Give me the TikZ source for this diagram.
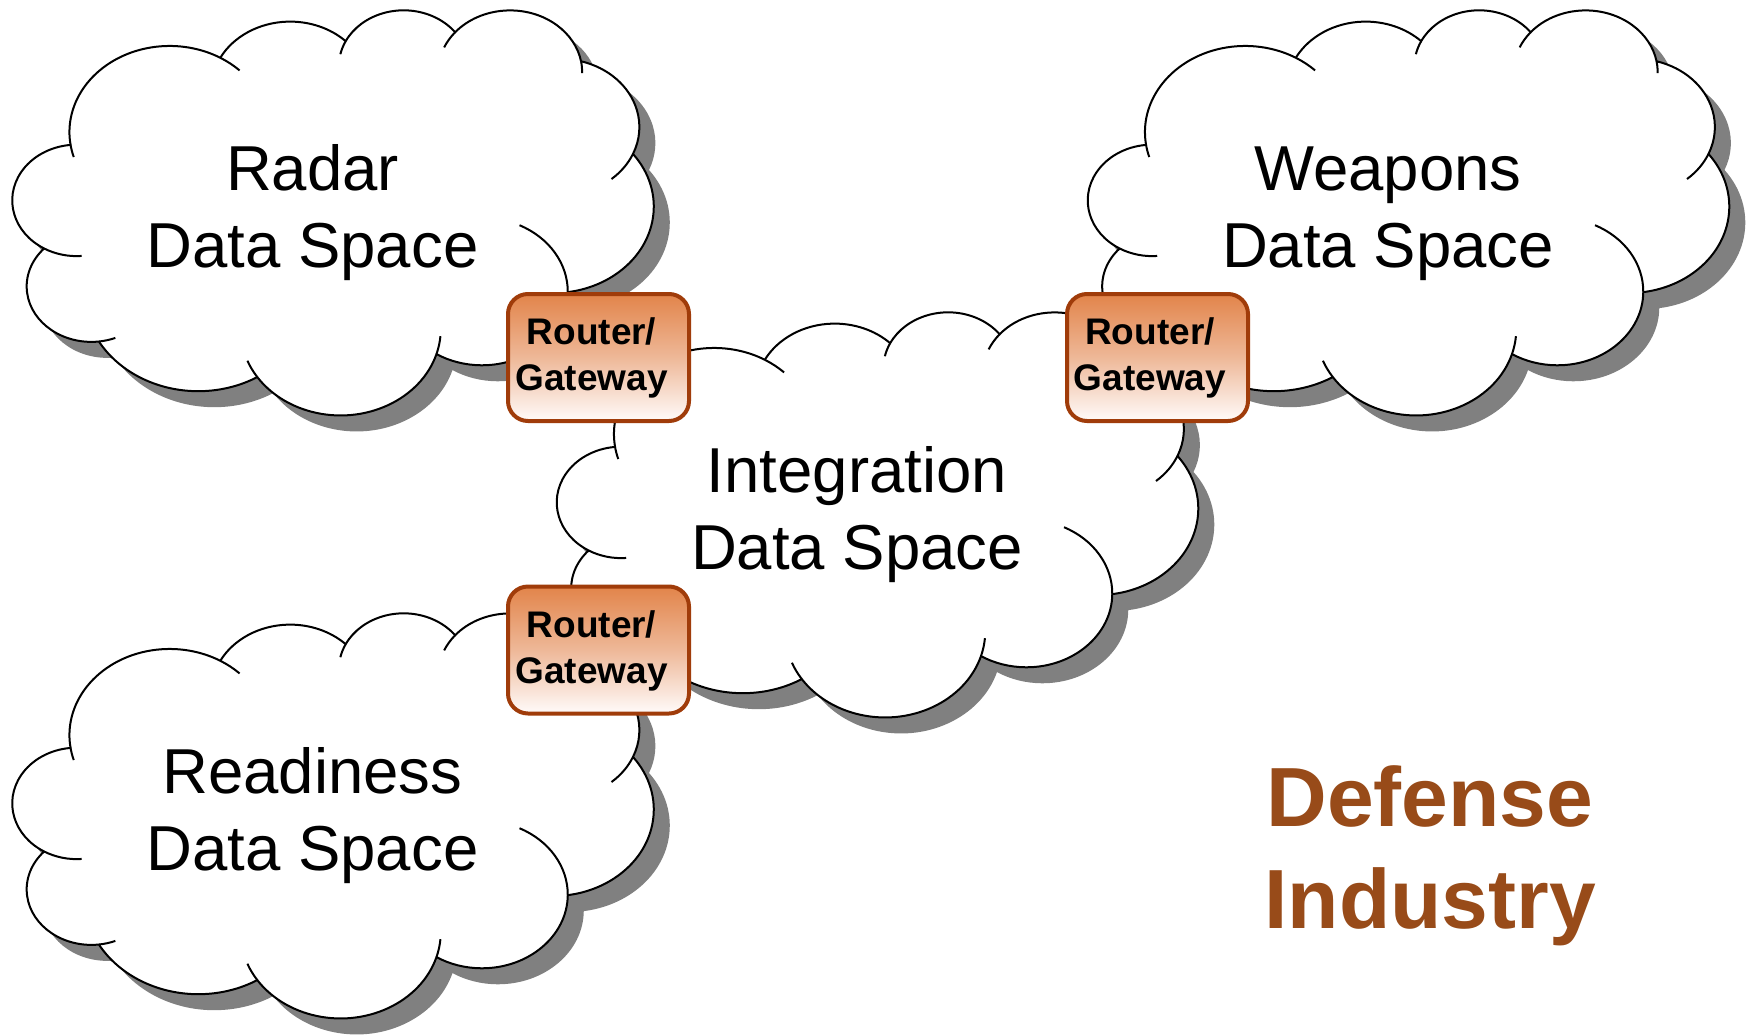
\documentclass[tikz,border=0pt]{standalone}
\usepackage{fontspec}
\setmainfont{Liberation Sans}
\definecolor{cldshadow}{HTML}{808080}
\definecolor{rtborder}{HTML}{A03C0A}
\definecolor{rttop}{HTML}{E2844A}
\definecolor{rtmid}{HTML}{EEB898}
\definecolor{rtbot}{HTML}{FFFBFA}
\definecolor{defcol}{HTML}{984B19}
\makeatletter
\def\cldX{3.9}\def\cldY{14.37}
\newcommand\cldarc[5]{%
  \pgfmathsetmacro\cld@tA{atan2((#2)*sin(#4),(#3)*cos(#4))}%
  \pgfmathsetmacro\cld@tB{atan2((#2)*sin((#4)+(#5)),(#3)*cos((#4)+(#5)))}%
  \pgfmathsetmacro\cld@tD{mod((\cld@tB)-(\cld@tA)+720,360)}%
  \pgfmathsetmacro\cld@cx{(\cldX)-(#2)*cos(\cld@tA)}%
  \pgfmathsetmacro\cld@cy{(\cldY)-(#3)*sin(\cld@tA)}%
  \pgfmathsetmacro\cldX{(\cld@cx)+(#2)*cos(\cld@tB)}%
  \pgfmathsetmacro\cldY{(\cld@cy)+(#3)*sin(\cld@tB)}%
  \expandafter\let\csname cld#1S\endcsname\cld@tA
  \expandafter\let\csname cld#1D\endcsname\cld@tD
  \expandafter\let\csname cld#1X\endcsname\cld@cx
  \expandafter\let\csname cld#1Y\endcsname\cld@cy
}
\newcommand\cldinner[6]{%
  \pgfmathsetmacro\cld@tA{atan2((#3)*sin(#5),(#4)*cos(#5))}%
  \pgfmathsetmacro\cld@tB{atan2((#3)*sin((#5)+(#6)),(#4)*cos((#5)+(#6)))}%
  \pgfmathsetmacro\cld@tD{mod((\cld@tB)-(\cld@tA)+720,360)}%
  \expandafter\let\expandafter\cld@ex\csname cld#2X\endcsname
  \expandafter\let\expandafter\cld@ey\csname cld#2Y\endcsname
  \pgfmathsetmacro\cld@sx{(\cld@ex)+(#3)*cos(\cld@tA)}%
  \pgfmathsetmacro\cld@sy{(\cld@ey)+(#4)*sin(\cld@tA)}%
  \expandafter\let\csname cld#1S\endcsname\cld@tA
  \expandafter\let\csname cld#1D\endcsname\cld@tD
  \expandafter\let\csname cld#1x\endcsname\cld@sx
  \expandafter\let\csname cld#1y\endcsname\cld@sy
}
\makeatother
\cldarc{a}{6.753}{9.19}{-190.48748}{123.78053}
\cldarc{b}{5.333}{7.267}{-144.10238}{89.94523}
\cldarc{c}{4.365}{5.945}{-145.80792}{99.72302}
\cldarc{d}{4.857}{6.595}{-130.98607}{117.24173}
\cldarc{e}{5.333}{7.273}{-78.70888}{109.02692}
\cldarc{f}{6.775}{9.22}{-46.26812}{130.15}
\cldarc{g}{5.785}{7.867}{0.62502}{114.03333}
\cldarc{h}{6.752}{9.215}{22.4516}{115.17255}
\cldarc{i}{7.72}{10.543}{66.24263}{75.71102}
\cldarc{j}{4.36}{5.918}{-274.94208}{146.73557}
\cldarc{k}{4.345}{5.945}{-246.8285}{152.51885}
\cldinner{ia}{k}{4.345}{5.945}{86.742}{26.4295}
\cldinner{ib}{j}{4.36}{5.918}{73.6105}{11.4475}
\cldinner{ic}{h}{6.752}{9.215}{137.6242}{14.0811}
\cldinner{id}{h}{6.752}{9.215}{6.4533}{15.9984}
\cldinner{ie}{g}{5.785}{7.867}{-70.2924}{70.9174}
\cldinner{if}{e}{5.333}{7.273}{30.318}{27.7515}
\cldinner{ig}{d}{4.857}{6.595}{-13.7443}{14.8589}
\cldinner{ih}{d}{4.857}{6.595}{-149.1815}{18.1954}
\cldinner{ii}{c}{4.365}{5.945}{-163.4943}{17.6864}
\cldinner{ij}{a}{6.753}{9.19}{-66.707}{12.3194}
\cldinner{ik}{a}{6.753}{9.19}{157.6544}{11.8582}
\newcommand\cldshape[2]{%
  \begin{scope}[#1]
  \path[#2] (3.9,14.37)
    arc[x radius=6.753,y radius=9.19,start angle=\cldaS,delta angle=\cldaD]
    arc[x radius=5.333,y radius=7.267,start angle=\cldbS,delta angle=\cldbD]
    arc[x radius=4.365,y radius=5.945,start angle=\cldcS,delta angle=\cldcD]
    arc[x radius=4.857,y radius=6.595,start angle=\clddS,delta angle=\clddD]
    arc[x radius=5.333,y radius=7.273,start angle=\cldeS,delta angle=\cldeD]
    arc[x radius=6.775,y radius=9.22,start angle=\cldfS,delta angle=\cldfD]
    arc[x radius=5.785,y radius=7.867,start angle=\cldgS,delta angle=\cldgD]
    arc[x radius=6.752,y radius=9.215,start angle=\cldhS,delta angle=\cldhD]
    arc[x radius=7.72,y radius=10.543,start angle=\cldiS,delta angle=\cldiD]
    arc[x radius=4.36,y radius=5.918,start angle=\cldjS,delta angle=\cldjD]
    arc[x radius=4.345,y radius=5.945,start angle=\cldkS,delta angle=\cldkD]
    -- cycle;
  \end{scope}}
\newcommand\cldinners[1]{%
  \begin{scope}[#1]
  \draw[cldline] (\cldiax,\cldiay) arc[x radius=4.345,y radius=5.945,start angle=\cldiaS,delta angle=\cldiaD];
  \draw[cldline] (\cldibx,\cldiby) arc[x radius=4.36,y radius=5.918,start angle=\cldibS,delta angle=\cldibD];
  \draw[cldline] (\cldicx,\cldicy) arc[x radius=6.752,y radius=9.215,start angle=\cldicS,delta angle=\cldicD];
  \draw[cldline] (\cldidx,\cldidy) arc[x radius=6.752,y radius=9.215,start angle=\cldidS,delta angle=\cldidD];
  \draw[cldline] (\cldiex,\cldiey) arc[x radius=5.785,y radius=7.867,start angle=\cldieS,delta angle=\cldieD];
  \draw[cldline] (\cldifx,\cldify) arc[x radius=5.333,y radius=7.273,start angle=\cldifS,delta angle=\cldifD];
  \draw[cldline] (\cldigx,\cldigy) arc[x radius=4.857,y radius=6.595,start angle=\cldigS,delta angle=\cldigD];
  \draw[cldline] (\cldihx,\cldihy) arc[x radius=4.857,y radius=6.595,start angle=\cldihS,delta angle=\cldihD];
  \draw[cldline] (\cldiix,\cldiiy) arc[x radius=4.365,y radius=5.945,start angle=\cldiiS,delta angle=\cldiiD];
  \draw[cldline] (\cldijx,\cldijy) arc[x radius=6.753,y radius=9.19,start angle=\cldijS,delta angle=\cldijD];
  \draw[cldline] (\cldikx,\cldiky) arc[x radius=6.753,y radius=9.19,start angle=\cldikS,delta angle=\cldikD];
  \end{scope}}
\newcommand\datacloud[2]{%
  \cldshape{shift={(#1+16,#2+16)},xscale=641/43.2,yscale=405/43.2}{fill=cldshadow}%
  \cldshape{shift={(#1,#2)},xscale=641/43.2,yscale=405/43.2}{cldline,fill=white}%
  \cldinners{shift={(#1,#2)},xscale=641/43.2,yscale=405/43.2}}
\begin{document}
\begin{tikzpicture}[x=1bp,y=-1bp,
  cldline/.style={draw=black,line width=2bp,line join=round},
  cldtext/.style={anchor=base,inner sep=0pt,font=\fontsize{63.5bp}{76bp}\selectfont},
  router/.style={draw=rtborder,line width=4bp,rounded corners=20bp,minimum width=181bp,minimum height=127bp,inner sep=0pt,top color=rttop,bottom color=rtbot,middle color=rtmid},
  rttext/.style={anchor=base,inner sep=0pt,font=\fontsize{37bp}{44bp}\selectfont\bfseries},
  deftext/.style={anchor=base,inner sep=0pt,text=defcol,font=\fontsize{84bp}{100bp}\selectfont\bfseries}]
\useasboundingbox (0,0) rectangle (1746,1034);
\fill[white] (0,0) rectangle (1746,1034);
\datacloud{12.5}{9}
\datacloud{1088}{9}
\datacloud{12.5}{612}
\datacloud{557}{311}
\node[cldtext] (radarA) at (312.5,190) {Radar};
\node[cldtext] (radarB) at (312.5,267) {Data Space};
\node[cldtext] (weapA) at (1388,190) {Weapons};
\node[cldtext] (weapB) at (1388,267) {Data Space};
\node[cldtext] (intA) at (857,492) {Integration};
\node[cldtext] (intB) at (857,569) {Data Space};
\node[cldtext] (readA) at (312.5,793) {Readiness};
\node[cldtext] (readB) at (312.5,870) {Data Space};
\node[router] (gw1) at (598.5,357.5) {};
\node[router] (gw2) at (1157.5,357.5) {};
\node[router] (gw3) at (598.5,650) {};
\node[rttext] (gw1a) at (591.5,344) {Router/};
\node[rttext] (gw1b) at (591.5,390) {Gateway};
\node[rttext] (gw2a) at (1150,344) {Router/};
\node[rttext] (gw2b) at (1150,390) {Gateway};
\node[rttext] (gw3a) at (591.5,637) {Router/};
\node[rttext] (gw3b) at (591.5,683) {Gateway};
\node[deftext] (def1) at (1430,826) {Defense};
\node[deftext] (def2) at (1430,928) {Industry};
\end{tikzpicture}
\end{document}
